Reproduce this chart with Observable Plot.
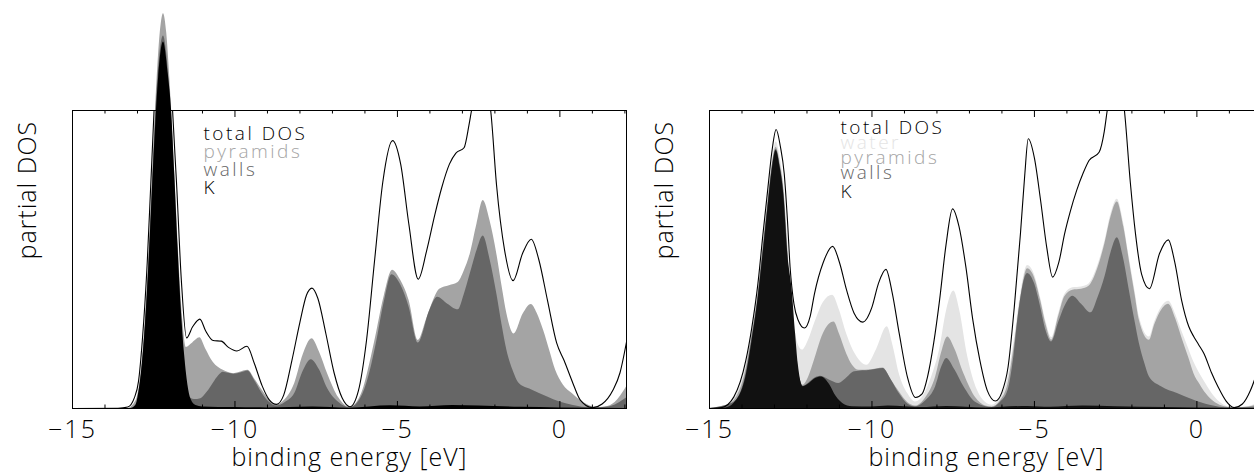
<!DOCTYPE html>
<html><head><meta charset="utf-8">
<script src="https://cdn.jsdelivr.net/npm/d3@7"></script>
<script src="https://cdn.jsdelivr.net/npm/@observablehq/plot@0.6"></script>
<style>
html,body{margin:0;padding:0;background:#fff;overflow:hidden;}
#wrap{position:relative;width:1254px;height:476px;overflow:hidden;}
#wrap > div{position:absolute;top:0;width:640px;height:476px;}
#wrap svg{max-width:none !important;width:640px;height:476px;}
g[aria-label="x-axis tick label"] text{letter-spacing:2px;}
g[aria-label="text"] text{letter-spacing:1px;}
g.legend text{letter-spacing:2.5px;}
</style></head><body>
<div id="wrap"><div id="p1" style="left:0"></div><div id="p2" style="left:637px"></div></div>
<script>
// ---------- tick labels ----------
const xTicks = [-15, -10, -5, 0];
const xMinor = [-14, -13, -12, -11, -9, -8, -7, -6, -4, -3, -2, -1, 1, 2];
const xLabel = "binding energy [eV]";
const yLabel = "partial DOS";

// ---------- left panel series: [energy, DOS] ----------
const leftNames = ["total DOS", "pyramids", "walls", "K"];
const leftColors = ["black", "#a4a4a4", "#666666", "black"];
const leftTotal = [[-15,0],[-13.6,0.01],[-13.3,0.05],[-13.1,0.35],[-12.97,0.9],[-12.85,2.3],[-12.7,4.9],[-12.6,7.3],[-12.49,10.0],[-12.35,13.5],[-12.2,14.8],[-12.05,13.3],[-11.92,10.0],[-11.8,7.6],[-11.65,4.3],[-11.49,2.37],[-11.3,2.75],[-11.08,3.0],[-10.9,2.6],[-10.67,2.28],[-10.42,2.26],[-10.2,2.05],[-9.94,1.93],[-9.63,2.09],[-9.4,1.5],[-9.16,0.75],[-8.95,0.3],[-8.72,0.14],[-8.5,0.45],[-8.25,1.6],[-8.0,2.9],[-7.8,3.8],[-7.63,4.04],[-7.45,3.7],[-7.2,2.5],[-6.95,1.2],[-6.7,0.35],[-6.46,0.06],[-6.2,0.6],[-5.95,2.3],[-5.7,5.0],[-5.45,7.6],[-5.15,8.99],[-4.9,8.2],[-4.65,6.2],[-4.36,4.34],[-4.1,5.3],[-3.85,6.5],[-3.64,7.4],[-3.4,8.2],[-3.2,8.57],[-2.95,8.75],[-2.8,9.5],[-2.72,10.0],[-2.45,11.5],[-2.13,10.0],[-1.95,7.5],[-1.7,5.3],[-1.44,4.29],[-1.15,5.2],[-0.88,5.68],[-0.65,5.0],[-0.38,3.62],[-0.1,2.2],[0.13,1.61],[0.4,0.85],[0.63,0.28],[1.0,0.03],[1.3,0.15],[1.63,0.61],[1.85,1.2],[2.05,2.23]];
const leftPyramids = [[-15,0],[-13.3,0],[-13.05,0.25],[-12.9,1.1],[-12.8,2.3],[-12.7,4.0],[-12.6,6.2],[-12.5,8.7],[-12.4,11.0],[-12.3,12.6],[-12.2,13.25],[-12.1,12.6],[-12.0,11.0],[-11.9,8.9],[-11.8,6.7],[-11.7,4.5],[-11.6,2.9],[-11.5,2.05],[-11.3,2.2],[-11.08,2.37],[-10.9,2.0],[-10.67,1.55],[-10.36,1.28],[-10.04,1.17],[-9.6,1.28],[-9.4,1.0],[-9.16,0.61],[-8.95,0.3],[-8.72,0.11],[-8.5,0.25],[-8.16,0.84],[-7.9,1.8],[-7.63,2.34],[-7.4,1.9],[-7.15,1.17],[-6.8,0.35],[-6.46,0.03],[-6.1,0.5],[-5.85,1.5],[-5.65,2.5],[-5.4,3.8],[-5.15,4.64],[-4.9,4.3],[-4.64,3.62],[-4.36,2.28],[-4.1,3.0],[-3.89,3.62],[-3.7,4.0],[-3.4,4.12],[-3.13,4.23],[-2.95,4.6],[-2.76,5.18],[-2.55,6.2],[-2.36,6.98],[-2.15,6.3],[-1.94,5.18],[-1.78,4.1],[-1.63,3.17],[-1.41,2.5],[-1.13,3.17],[-0.88,3.49],[-0.7,3.2],[-0.5,2.62],[-0.3,1.9],[-0.13,1.28],[0.1,0.8],[0.38,0.5],[0.65,0.25],[0.88,0.11],[1.1,0.03],[1.4,0.05],[1.7,0.2],[2.05,0.72]];
const leftWalls = [[-15,0],[-13.2,0],[-13.0,0.2],[-12.9,0.9],[-12.8,2.1],[-12.7,3.8],[-12.6,6.0],[-12.5,8.4],[-12.4,10.6],[-12.3,12.0],[-12.2,12.5],[-12.1,11.9],[-12.0,10.5],[-11.9,8.4],[-11.8,6.1],[-11.7,4.0],[-11.6,2.3],[-11.5,1.05],[-11.42,0.4],[-11.25,0.3],[-11.05,0.33],[-10.85,0.55],[-10.67,0.84],[-10.5,1.1],[-10.36,1.22],[-10.2,1.18],[-10.04,1.15],[-9.8,1.2],[-9.6,1.26],[-9.4,0.95],[-9.16,0.5],[-8.95,0.22],[-8.72,0.08],[-8.45,0.2],[-8.16,0.5],[-7.9,1.25],[-7.65,1.64],[-7.4,1.3],[-7.15,0.67],[-6.8,0.2],[-6.46,0.02],[-6.1,0.4],[-5.85,1.2],[-5.65,2.17],[-5.4,3.6],[-5.17,4.49],[-4.9,4.15],[-4.64,3.4],[-4.36,2.2],[-4.0,3.3],[-3.76,3.73],[-3.45,3.5],[-3.13,3.31],[-2.95,3.8],[-2.76,4.51],[-2.55,5.3],[-2.36,5.79],[-2.15,5.0],[-1.94,3.84],[-1.78,2.8],[-1.63,1.95],[-1.45,1.3],[-1.25,0.84],[-0.88,0.63],[-0.38,0.39],[0.0,0.22],[0.38,0.11],[1.0,0.02],[1.5,0.05],[2.05,0.35]];
const leftK = [[-15,0],[-13.2,0],[-13.05,0.1],[-12.95,0.6],[-12.85,1.5],[-12.75,2.9],[-12.65,4.8],[-12.55,7.1],[-12.45,9.3],[-12.35,11.1],[-12.2,12.3],[-12.05,11.2],[-11.95,10.0],[-11.85,7.8],[-11.75,5.4],[-11.65,3.3],[-11.55,1.8],[-11.45,0.8],[-11.35,0.3],[-11.2,0.1],[-11.0,0.05],[-10.0,0.03],[-9.0,0.02],[-7.6,0.05],[-6.5,0.01],[-5.2,0.09],[-4.3,0.05],[-3.3,0.1],[-2.5,0.08],[-1.2,0.04],[0,0.02],[2.05,0]];

// ---------- right panel series ----------
const rightNames = ["total DOS", "water", "pyramids", "walls", "K"];
const rightColors = ["black", "#e4e4e4", "#a4a4a4", "#666666", "#111111"];
const rightTotal = [[-15,0],[-14.63,0.03],[-14.25,0.39],[-13.88,1.62],[-13.7,2.7],[-13.51,4.19],[-13.35,5.9],[-13.2,7.43],[-13.07,8.7],[-12.95,9.36],[-12.82,8.8],[-12.7,7.88],[-12.6,6.3],[-12.52,4.75],[-12.4,3.5],[-12.27,2.96],[-12.08,2.7],[-11.9,3.1],[-11.77,3.85],[-11.5,4.9],[-11.21,5.44],[-11.0,4.9],[-10.78,3.97],[-10.55,3.2],[-10.28,2.9],[-10.0,3.4],[-9.8,4.2],[-9.57,4.67],[-9.38,3.9],[-9.16,2.51],[-8.91,1.06],[-8.66,0.37],[-8.45,0.5],[-8.29,1.06],[-8.1,2.2],[-7.92,3.63],[-7.72,5.5],[-7.52,6.7],[-7.32,6.1],[-7.11,4.75],[-6.9,3.0],[-6.68,1.62],[-6.45,0.6],[-6.2,0.25],[-6.0,0.55],[-5.81,1.4],[-5.62,3.4],[-5.43,5.87],[-5.3,7.8],[-5.19,9.05],[-5.0,8.4],[-4.81,6.98],[-4.62,5.4],[-4.44,4.41],[-4.25,4.9],[-4.07,5.87],[-3.9,6.6],[-3.7,7.32],[-3.5,7.9],[-3.32,8.32],[-3.01,8.6],[-2.85,9.3],[-2.76,10.0],[-2.5,11.6],[-2.23,10.0],[-2.05,7.6],[-1.89,5.87],[-1.7,4.5],[-1.46,4.02],[-1.15,5.2],[-0.88,5.66],[-0.68,4.9],[-0.47,3.63],[-0.25,2.75],[-0.09,2.4],[0.05,2.15],[0.22,1.84],[0.45,1.2],[0.65,0.73],[0.9,0.25],[1.15,0.03],[1.4,0.15],[1.65,0.61],[1.9,1.4],[2.05,2.0]];
const rightWater = [[-15,0],[-14.6,0.02],[-14.25,0.3],[-13.88,1.45],[-13.7,2.5],[-13.51,3.9],[-13.35,5.6],[-13.2,7.1],[-13.07,8.3],[-12.95,8.94],[-12.82,8.4],[-12.7,7.4],[-12.6,5.8],[-12.52,4.3],[-12.4,2.9],[-12.27,2.15],[-12.14,1.96],[-11.95,2.3],[-11.75,2.9],[-11.5,3.55],[-11.21,3.8],[-11.0,3.3],[-10.78,2.51],[-10.5,1.8],[-10.16,1.45],[-9.85,2.0],[-9.53,2.74],[-9.35,2.1],[-9.16,1.17],[-8.9,0.5],[-8.66,0.22],[-8.4,0.45],[-8.15,1.1],[-7.92,1.96],[-7.7,3.3],[-7.48,3.94],[-7.3,3.3],[-7.05,1.73],[-6.75,0.6],[-6.5,0.2],[-6.3,0.11],[-6.05,0.35],[-5.81,1.06],[-5.62,2.3],[-5.43,3.8],[-5.21,4.8],[-5.0,4.5],[-4.81,3.72],[-4.64,2.9],[-4.47,2.38],[-4.25,3.2],[-4.07,3.82],[-3.82,4.05],[-3.55,4.08],[-3.32,4.18],[-3.05,4.8],[-2.83,5.62],[-2.65,6.5],[-2.45,7.02],[-2.25,6.2],[-2.08,5.07],[-1.9,3.92],[-1.77,3.08],[-1.46,2.4],[-1.3,2.9],[-1.15,3.28],[-0.87,3.6],[-0.65,3.15],[-0.47,2.62],[-0.25,2.0],[-0.09,1.55],[0.1,1.15],[0.28,0.82],[0.5,0.45],[0.78,0.15],[1.1,0.03],[1.6,0.07],[2.05,0.3]];
const rightPyramids = [[-15,0],[-14.6,0.01],[-14.25,0.25],[-13.88,1.3],[-13.7,2.4],[-13.51,3.75],[-13.35,5.4],[-13.2,6.9],[-13.07,8.15],[-12.95,8.77],[-12.82,8.2],[-12.7,7.2],[-12.6,5.5],[-12.52,3.9],[-12.4,2.3],[-12.27,1.3],[-12.12,0.78],[-11.95,1.05],[-11.77,1.62],[-11.5,2.5],[-11.17,2.9],[-11.0,2.5],[-10.78,1.84],[-10.6,1.45],[-10.4,1.28],[-10.0,1.3],[-9.66,1.36],[-9.4,0.95],[-9.16,0.56],[-8.9,0.2],[-8.66,0.08],[-8.35,0.35],[-8.04,1.06],[-7.85,1.9],[-7.67,2.4],[-7.45,2.0],[-7.17,1.17],[-6.8,0.35],[-6.5,0.08],[-6.3,0.05],[-6.05,0.25],[-5.81,0.84],[-5.62,2.1],[-5.43,3.63],[-5.21,4.69],[-5.0,4.4],[-4.81,3.63],[-4.64,2.8],[-4.47,2.29],[-4.25,3.1],[-4.07,3.74],[-3.82,3.97],[-3.55,4.0],[-3.32,4.1],[-3.05,4.7],[-2.83,5.53],[-2.65,6.4],[-2.45,6.93],[-2.25,6.1],[-2.08,4.97],[-1.9,3.8],[-1.77,2.96],[-1.46,2.29],[-1.3,2.8],[-1.15,3.18],[-0.87,3.5],[-0.65,3.0],[-0.47,2.4],[-0.25,1.7],[-0.09,1.17],[0.1,0.8],[0.28,0.5],[0.5,0.25],[0.78,0.08],[1.1,0.02],[1.6,0.05],[2.05,0.2]];
const rightWalls = [[-15,0],[-14.25,0.2],[-13.88,1.15],[-13.7,2.3],[-13.51,3.68],[-13.35,5.3],[-13.2,6.82],[-13.07,8.1],[-12.95,8.7],[-12.82,8.1],[-12.7,7.1],[-12.6,5.35],[-12.52,3.8],[-12.4,2.2],[-12.27,1.25],[-12.12,0.75],[-11.95,0.85],[-11.75,1.02],[-11.58,1.08],[-11.3,0.95],[-11.02,0.84],[-10.8,1.0],[-10.53,1.23],[-10.03,1.28],[-9.66,1.34],[-9.4,0.95],[-9.16,0.5],[-8.9,0.15],[-8.66,0.05],[-8.35,0.25],[-8.04,0.73],[-7.85,1.4],[-7.7,1.68],[-7.45,1.3],[-7.17,0.73],[-6.8,0.2],[-6.3,0.03],[-6.05,0.2],[-5.81,0.61],[-5.65,1.6],[-5.5,3.07],[-5.21,4.53],[-5.0,4.2],[-4.81,3.41],[-4.64,2.6],[-4.47,2.23],[-4.25,2.9],[-4.07,3.41],[-3.82,3.77],[-3.55,3.5],[-3.26,3.21],[-3.05,3.7],[-2.83,4.41],[-2.65,5.2],[-2.45,5.73],[-2.25,5.0],[-2.08,3.97],[-1.9,2.9],[-1.77,2.18],[-1.6,1.5],[-1.46,1.06],[-1.09,0.73],[-0.6,0.5],[-0.09,0.28],[0.4,0.11],[1.0,0.02],[2.05,0.05]];
const rightK = [[-15,0],[-14.5,0.02],[-14.25,0.17],[-13.88,1.06],[-13.7,2.2],[-13.51,3.63],[-13.35,5.2],[-13.2,6.76],[-13.07,8.0],[-12.95,8.66],[-12.82,8.05],[-12.7,7.0],[-12.6,5.3],[-12.45,3.9],[-12.35,2.5],[-12.27,1.5],[-12.12,0.73],[-11.95,0.82],[-11.75,1.0],[-11.55,1.06],[-11.3,0.8],[-11.1,0.4],[-10.9,0.17],[-10.6,0.06],[-10.0,0.05],[-9.5,0.08],[-8.5,0.03],[-7.7,0.07],[-6.5,0.02],[-5.2,0.07],[-4.5,0.04],[-3.5,0.08],[-2.5,0.06],[-1.0,0.03],[0,0.02],[2.05,0]];

// ---------- layout ----------
const W = 640, H = 476, mL = 72, mR = 14, mT = 110, mB = 68;
const frameH = H - mT - mB;
const font = "'Open Sans', 'DejaVu Sans', sans-serif";

function panel(total, fills, names, colors, legendBaselines) {
  const gx = d => d[0], gy = d => d[1];
  const marks = [];
  // filled partial DOS, lightest first
  fills.forEach(([data, color]) => {
    marks.push(Plot.areaY(data, {x: gx, y: gy, fill: color, curve: "monotone-x"}));
  });
  marks.push(Plot.line(total, {x: gx, y: gy, stroke: "black", strokeWidth: 1.1, curve: "monotone-x", clip: true}));
  marks.push(Plot.frame({stroke: "black", strokeWidth: 1}));
  // inward ticks
  marks.push(Plot.tickX(xTicks, {x: d => d, insetTop: frameH - 7, stroke: "black"}));
  marks.push(Plot.tickX(xTicks, {x: d => d, insetBottom: frameH - 7, stroke: "black"}));
  marks.push(Plot.tickX(xMinor, {x: d => d, insetTop: frameH - 3.5, stroke: "black"}));
  marks.push(Plot.tickX(xMinor, {x: d => d, insetBottom: frameH - 3.5, stroke: "black"}));
  marks.push(Plot.axisX({ticks: xTicks, tickSize: 0, tickPadding: 12, fontSize: 25, fill: "black", label: null}));
  marks.push(Plot.text([xLabel], {frameAnchor: "bottom", dy: 57, lineAnchor: "bottom", fontSize: 25, fill: "black"}));
  marks.push(Plot.text([yLabel], {frameAnchor: "left", dx: -45, rotate: -90, fontSize: 25, fill: "black"}));
  names.forEach((n, i) => {
    marks.push(Plot.text([n], {frameAnchor: "top-left", dx: 131, dy: legendBaselines[i] - mT, lineAnchor: "bottom", textAnchor: "start", fontSize: 19, fill: colors[i], className: "legend"}));
  });
  return Plot.plot({
    width: W, height: H,
    marginLeft: mL, marginRight: mR, marginTop: mT, marginBottom: mB,
    x: {domain: [-15, 2.05]},
    y: {domain: [0, 10], axis: null},
    style: {fontFamily: font, fontWeight: 300, background: "transparent", overflow: "visible"},
    marks
  });
}

document.getElementById("p1").append(panel(
  leftTotal,
  [[leftPyramids, leftColors[1]], [leftWalls, leftColors[2]], [leftK, leftColors[3]]],
  leftNames, leftColors, [139, 157, 175, 193]
));
document.getElementById("p2").append(panel(
  rightTotal,
  [[rightWater, rightColors[1]], [rightPyramids, rightColors[2]], [rightWalls, rightColors[3]], [rightK, rightColors[4]]],
  rightNames, rightColors, [133, 148, 163, 178, 197]
));
</script>
</body></html>
